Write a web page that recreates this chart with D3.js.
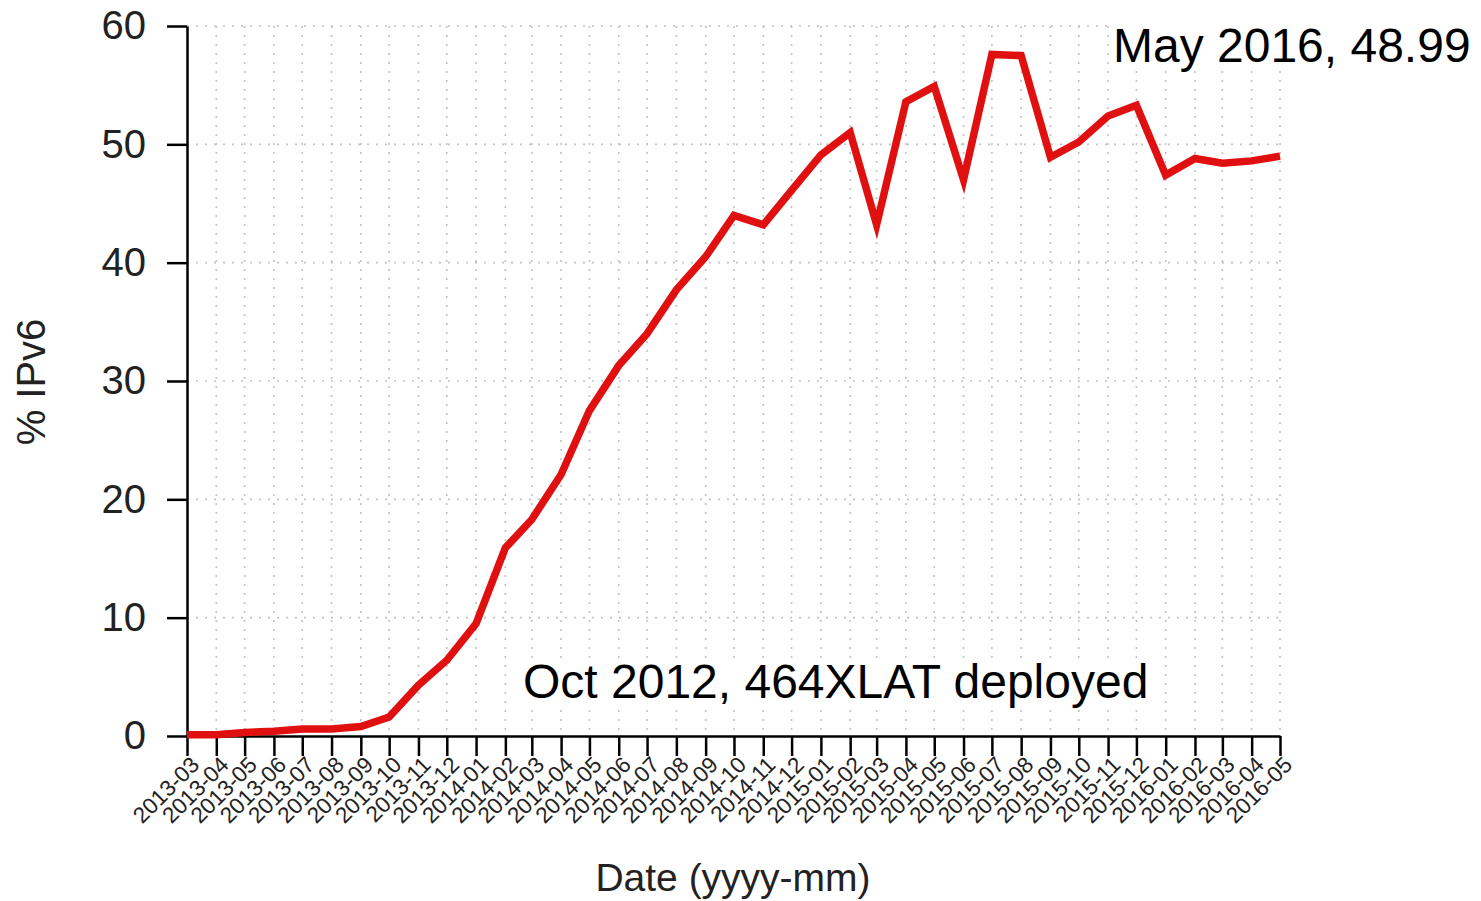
<!DOCTYPE html>
<html>
<head>
<meta charset="utf-8">
<script src="https://cdn.jsdelivr.net/npm/d3@7"></script>
<style>
  body { margin: 0; background: #fff; }
  svg { display: block; font-family: "Liberation Sans", Arial, sans-serif; }
  .grid line { stroke: #c2c2c2; stroke-width: 1.6; stroke-dasharray: 2,7; }
  .axis path, .axis line { stroke: #000; stroke-width: 2.5; }
</style>
</head>
<body>
<svg width="1481" height="901"></svg>
<script>
// monthly share of IPv6 traffic
const months = ['2013-03','2013-04','2013-05','2013-06','2013-07','2013-08','2013-09','2013-10','2013-11','2013-12',
  '2014-01','2014-02','2014-03','2014-04','2014-05','2014-06','2014-07','2014-08','2014-09','2014-10','2014-11','2014-12',
  '2015-01','2015-02','2015-03','2015-04','2015-05','2015-06','2015-07','2015-08','2015-09','2015-10','2015-11','2015-12',
  '2016-01','2016-02','2016-03','2016-04','2016-05'];
const ipv6 = [0.1, 0.1, 0.3, 0.4, 0.6, 0.6, 0.8, 1.6, 4.3, 6.4,
  9.5, 15.9, 18.3, 22.1, 27.5, 31.3, 34.0, 37.7, 40.5, 44.0, 43.2, 46.1,
  49.1, 51.0, 43.2, 53.6, 54.9, 47.0, 57.6, 57.5, 48.9, 50.2, 52.4, 53.3,
  47.4, 48.8, 48.4, 48.6, 49.0];
const yTicks = [0, 10, 20, 30, 40, 50, 60];
const notes = ['May 2016, 48.99', 'Oct 2012, 464XLAT deployed'];

let parse = d3.timeParse('%Y-%m'),
    fmt = d3.timeFormat('%Y-%m');
let data = months.map((m, i) => ({ date: parse(m), v: ipv6[i] }));

let mLeft = 187, mRight = 1280, mTop = 26, mBottom = 736;

let svg = d3.select('svg');

let x = d3.scaleTime()
          .domain(d3.extent(data, d => d.date))
          .range([mLeft, mRight]);

let y = d3.scaleLinear()
          .domain([0, 60])
          .range([mBottom, mTop]);

// dotted grid
let grid = svg.append('g').attr('class', 'grid');
grid.selectAll('.vg')
    .data(data.slice(1))
    .enter()
    .append('line')
    .attr('x1', d => x(d.date)).attr('x2', d => x(d.date))
    .attr('y1', mTop).attr('y2', mBottom);
grid.selectAll('.hg')
    .data(yTicks.slice(1))
    .enter()
    .append('line')
    .attr('x1', mLeft).attr('x2', mRight)
    .attr('y1', d => y(d)).attr('y2', d => y(d));

// axes
let xAxis = svg.append('g')
    .attr('class', 'axis')
    .attr('transform', `translate(0,${mBottom})`)
    .call(d3.axisBottom(x)
        .tickValues(data.map(d => d.date))
        .tickFormat(fmt)
        .tickSize(20)
        .tickSizeOuter(0));

xAxis.selectAll('text')
    .attr('font-size', 22.5)
    .attr('fill', '#222')
    .attr('text-anchor', 'end')
    .attr('dy', null)
    .attr('y', 0)
    .attr('transform', 'translate(9,26) rotate(-45)')
    .attr('dominant-baseline', 'middle');

let yAxis = svg.append('g')
    .attr('class', 'axis')
    .attr('transform', `translate(${mLeft},0)`)
    .call(d3.axisLeft(y)
        .tickValues(yTicks)
        .tickSize(20)
        .tickSizeOuter(0)
        .tickPadding(21));

yAxis.selectAll('text')
    .attr('font-size', 40)
    .attr('fill', '#222');

// axis titles
svg.append('text')
    .attr('x', 733)
    .attr('y', 891)
    .attr('text-anchor', 'middle')
    .attr('font-size', 39)
    .attr('fill', '#222')
    .text('Date (yyyy-mm)');

svg.append('text')
    .attr('transform', 'translate(45,382) rotate(-90)')
    .attr('text-anchor', 'middle')
    .attr('font-size', 40)
    .attr('fill', '#222')
    .text('% IPv6');

// the series
let line = d3.line()
    .x(d => x(d.date))
    .y(d => y(d.v));

svg.append('path')
    .datum(data)
    .attr('fill', 'none')
    .attr('stroke', '#e11010')
    .attr('stroke-width', 7.5)
    .attr('d', line);

// annotations
let notePos = [[1113, 62], [523, 698]];
notes.forEach((t, i) => {
  let g = svg.append('g');
  let txt = g.append('text')
      .attr('x', notePos[i][0])
      .attr('y', notePos[i][1])
      .attr('font-size', 48)
      .attr('fill', '#000')
      .text(t);
  let b = txt.node().getBBox();
  g.insert('rect', 'text')
      .attr('x', b.x - 4).attr('y', b.y + 4)
      .attr('width', b.width + 8).attr('height', b.height - 6)
      .attr('fill', '#fff');
});
</script>
</body>
</html>
